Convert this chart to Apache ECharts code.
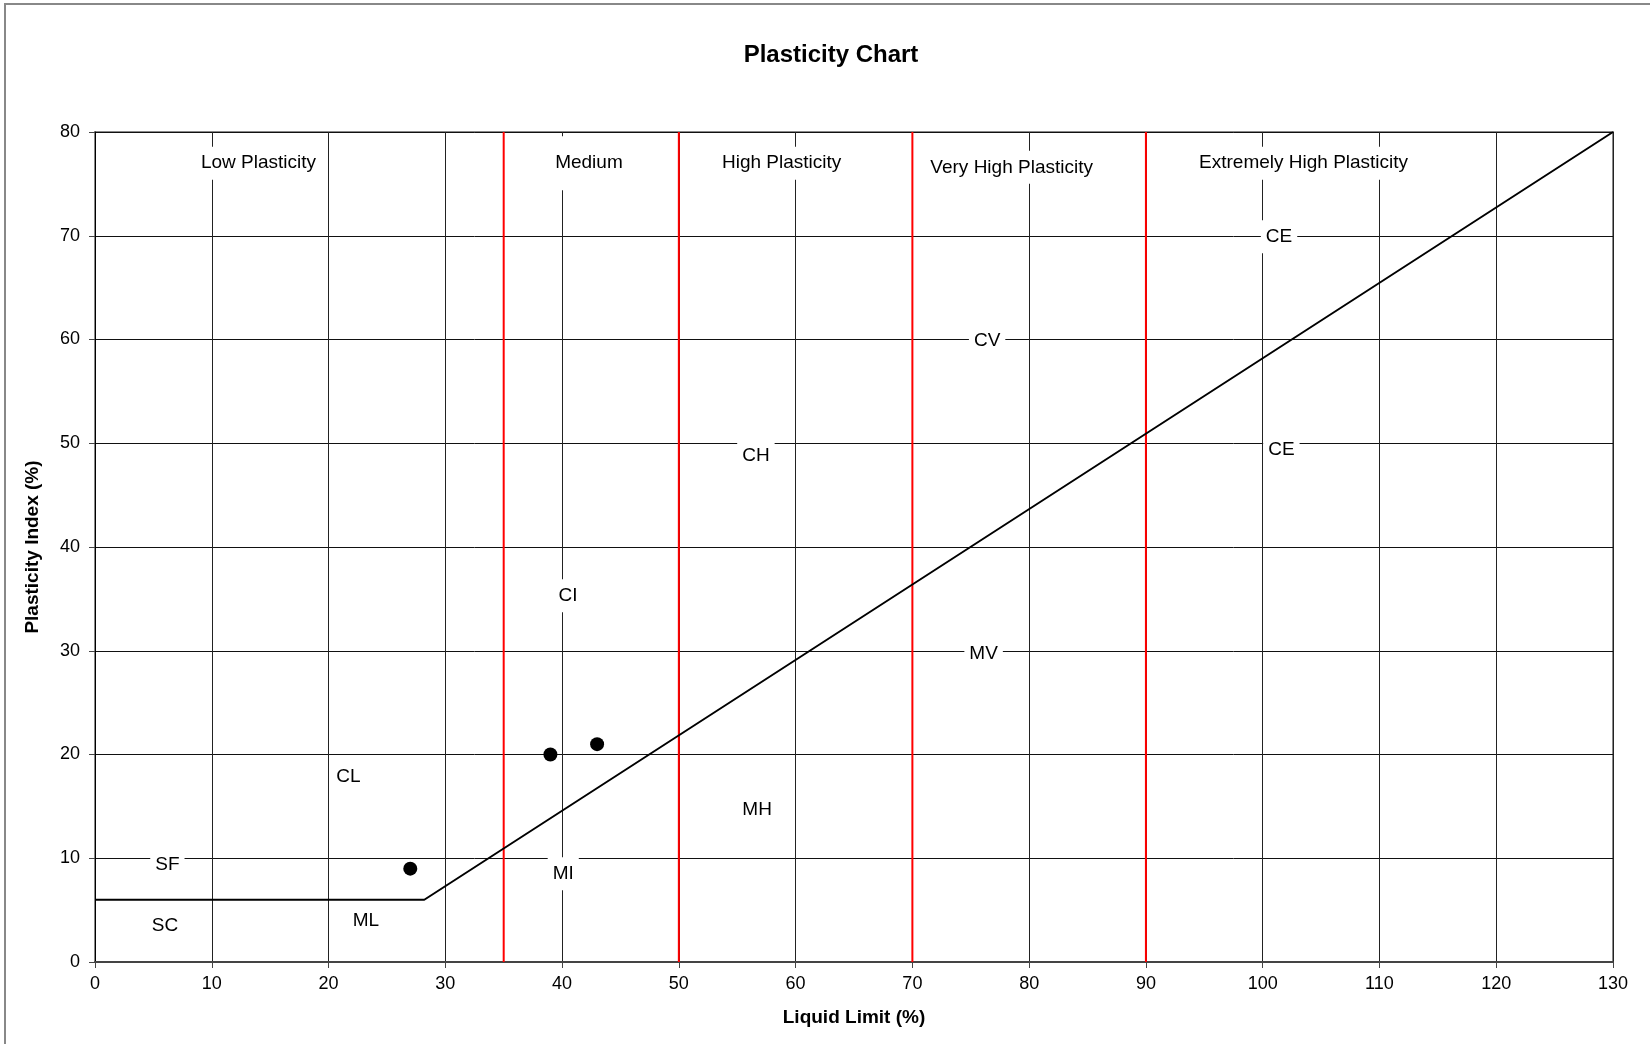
<!DOCTYPE html>
<html>
<head>
<meta charset="utf-8">
<script src="https://cdn.jsdelivr.net/npm/echarts@6/dist/echarts.min.js"></script>
<style>
  html, body { margin: 0; padding: 0; background: #fff; }
  #chart { width: 1650px; height: 1044px; }
</style>
</head>
<body>
<div id="chart"></div>
<script>
// Axis ticks
const llTicks = [0, 10, 20, 30, 40, 50, 60, 70, 80, 90, 100, 110, 120, 130];
const piTicks = [0, 10, 20, 30, 40, 50, 60, 70, 80];

// Plasticity boundaries (red lines) on liquid limit
const boundaryLL = [35, 50, 70, 90];

// A-line
const aLineLL = [0, 28.2, 130];
const aLinePI = [6, 6, 80];

// Samples
const sampleLL = [27, 39, 43];
const samplePI = [9, 20, 21];

// Zone labels
const zoneNames = ['Low Plasticity', 'Medium', 'High Plasticity', 'Very High Plasticity', 'Extremely High Plasticity',
    'CE', 'CV', 'CE', 'CH', 'CI', 'MV', 'CL', 'MH', 'SF', 'MI', 'ML', 'SC'];
const zoneLL = [14, 42.3, 58.8, 78.5, 103.5, 101.4, 76.4, 101.6, 56.6, 40.5, 76.1, 21.7, 56.7, 6.2, 40.1, 23.2, 6.0];
const zonePI = [77, 77, 77, 76.6, 77, 69.9, 59.9, 49.4, 48.8, 35.3, 29.7, 17.9, 14.7, 9.4, 8.5, 4.0, 3.5];

const font = 'Liberation Sans, Arial, sans-serif';

const chart = echarts.init(document.getElementById('chart'));

const boundarySeries = boundaryLL.map(ll => ({
    type: 'line',
    data: [[ll, 0], [ll, 80]],
    symbol: 'none',
    lineStyle: { color: '#ff0000', width: 2 },
    silent: true,
    z: 3
}));

const labelData = zoneNames.map((name, i) => {
    const item = { name: name, value: [zoneLL[i], zonePI[i]] };
    if (name === 'Medium') {
        item.label = { padding: [7, 5, 28, 5] };
    }
    return item;
});

const option = {
    animation: false,
    backgroundColor: '#fff',
    title: {
        text: 'Plasticity Chart',
        left: 826,
        top: 38,
        textAlign: 'center',
        textStyle: { fontFamily: font, fontSize: 24, fontWeight: 'bold', color: '#000' }
    },
    graphic: [{
        type: 'rect',
        shape: { x: 5, y: 4, width: 1700, height: 1100 },
        style: { fill: 'none', stroke: '#888', lineWidth: 2 },
        silent: true
    }],
    grid: {
        left: 95,
        right: 37,
        top: 132,
        bottom: 82,
        show: true,
        borderColor: '#888',
        borderWidth: 2
    },
    xAxis: {
        type: 'value',
        min: 0,
        max: 130,
        interval: 10,
        name: 'Liquid Limit (%)',
        nameLocation: 'middle',
        nameGap: 46,
        nameTextStyle: { fontFamily: font, fontSize: 19, fontWeight: 'bold', color: '#000' },
        axisLine: { show: true, lineStyle: { color: '#444', width: 2 } },
        axisTick: { show: true, length: 6, lineStyle: { color: '#444' } },
        axisLabel: {
            fontFamily: font, fontSize: 18, color: '#000', margin: 13,
            formatter: v => llTicks.includes(v) ? String(v) : ''
        },
        splitLine: { show: true, lineStyle: { color: '#222', width: 1 } }
    },
    yAxis: {
        type: 'value',
        min: 0,
        max: 80,
        interval: 10,
        name: 'Plasticity Index (%)',
        nameLocation: 'middle',
        nameGap: 53,
        nameTextStyle: { fontFamily: font, fontSize: 19, fontWeight: 'bold', color: '#000' },
        axisLine: { show: true, lineStyle: { color: '#000', width: 1 } },
        axisTick: { show: true, length: 6, lineStyle: { color: '#444' } },
        axisLabel: {
            fontFamily: font, fontSize: 18, color: '#000', margin: 15,
            formatter: v => piTicks.includes(v) ? String(v) : ''
        },
        splitLine: { show: true, lineStyle: { color: '#111', width: 1 } }
    },
    series: [
        ...boundarySeries,
        {
            type: 'line',
            name: 'A-line',
            data: aLineLL.map((ll, i) => [ll, aLinePI[i]]),
            symbol: 'none',
            lineStyle: { color: '#000', width: 2 },
            silent: true,
            z: 4
        },
        {
            type: 'scatter',
            name: 'Zones',
            data: labelData,
            symbolSize: 0,
            silent: true,
            z: 5,
            itemStyle: { opacity: 1 },
            label: {
                show: true,
                position: 'inside',
                formatter: p => p.name,
                fontFamily: font,
                fontSize: 19,
                color: '#000',
                opacity: 1,
                backgroundColor: '#fff',
                padding: [7, 5]
            }
        },
        {
            type: 'scatter',
            name: 'Samples',
            data: sampleLL.map((ll, i) => [ll, samplePI[i]]),
            symbol: 'circle',
            symbolSize: 14,
            itemStyle: { color: '#000', opacity: 1 },
            z: 6
        }
    ]
};

chart.setOption(option);
</script>
</body>
</html>
